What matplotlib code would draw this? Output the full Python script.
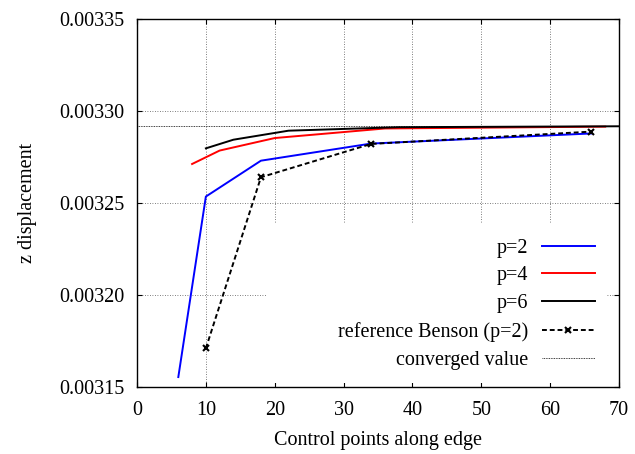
import matplotlib.pyplot as plt
from matplotlib.patches import Rectangle

plt.rcParams['font.family'] = ['Liberation Serif', 'DejaVu Serif']

# data
x_p2 = [6, 10, 18, 34, 66]
z_p2 = [0.0031554, 0.0032535, 0.0032730, 0.0032823, 0.0032878]
x_p4 = [8, 12, 20, 36, 68]
z_p4 = [0.0032712, 0.0032785, 0.0032853, 0.0032905, 0.0032915]
x_p6 = [10, 14, 22, 38, 70]
z_p6 = [0.0032797, 0.0032844, 0.0032893, 0.0032912, 0.0032917]
x_benson = [10, 18, 34, 66]
z_benson = [0.0031710, 0.0032640, 0.0032821, 0.0032888]
z_converged = 0.003292

xticks = [0, 10, 20, 30, 40, 50, 60, 70]
yticks = [0.00315, 0.00320, 0.00325, 0.00330, 0.00335]

fig = plt.figure(figsize=(6.35, 4.54), dpi=100)
ax = fig.add_axes([137 / 635, 1 - 387 / 454, 482 / 635, 368 / 454])

ax.plot(x_p2, z_p2, color='#0000ff', lw=1.4, label='p=2', zorder=3)
ax.plot(x_p4, z_p4, color='#ff0000', lw=1.4, label='p=4', zorder=3)
ax.plot(x_p6, z_p6, color='black', lw=1.4, label='p=6', zorder=3)
ax.plot(x_benson, z_benson, color='black', lw=1.4, ls=(0, (2.5, 1.5)),
        marker='x', ms=5, mew=1.5, label='reference Benson (p=2)', zorder=3)
ax.axhline(z_converged, color='black', lw=0.6, ls=(0, (1, 1)),
           label='converged value', zorder=2.5)

ax.set_xlim(0, 70)
ax.set_ylim(0.00315, 0.00335)
ax.set_xticks(xticks)
ax.set_yticks(yticks)
ax.set_yticklabels([f'{v:.5f}' for v in yticks])
ax.tick_params(direction='in', top=True, right=True, labelsize=14.5,
               length=3.5, width=0.8)
ax.tick_params(axis='x', pad=10)
ax.tick_params(axis='y', pad=9)
ax.grid(True, color='#555555', ls=(0, (1, 2)), lw=0.6)
for s in ax.spines.values():
    s.set_linewidth(1.0)
    s.set_zorder(4)

ax.set_xlabel('Control points along edge', fontsize=14.5, labelpad=8)
ax.set_ylabel('z displacement', fontsize=14.5, labelpad=16)

# opaque key box covering the grid (gnuplot style)
ax.add_patch(Rectangle((0.2697, 0.011), 0.705, 0.435, transform=ax.transAxes,
                       facecolor='white', edgecolor='none', zorder=2))

leg = ax.legend(loc='lower right', bbox_to_anchor=(0.971, 0.02),
                markerfirst=False, fontsize=14.5, frameon=False,
                handlelength=2.65, labelspacing=0.43,
                borderpad=0, handletextpad=0.65)

fig.savefig('out.png', dpi=100, facecolor='white')
